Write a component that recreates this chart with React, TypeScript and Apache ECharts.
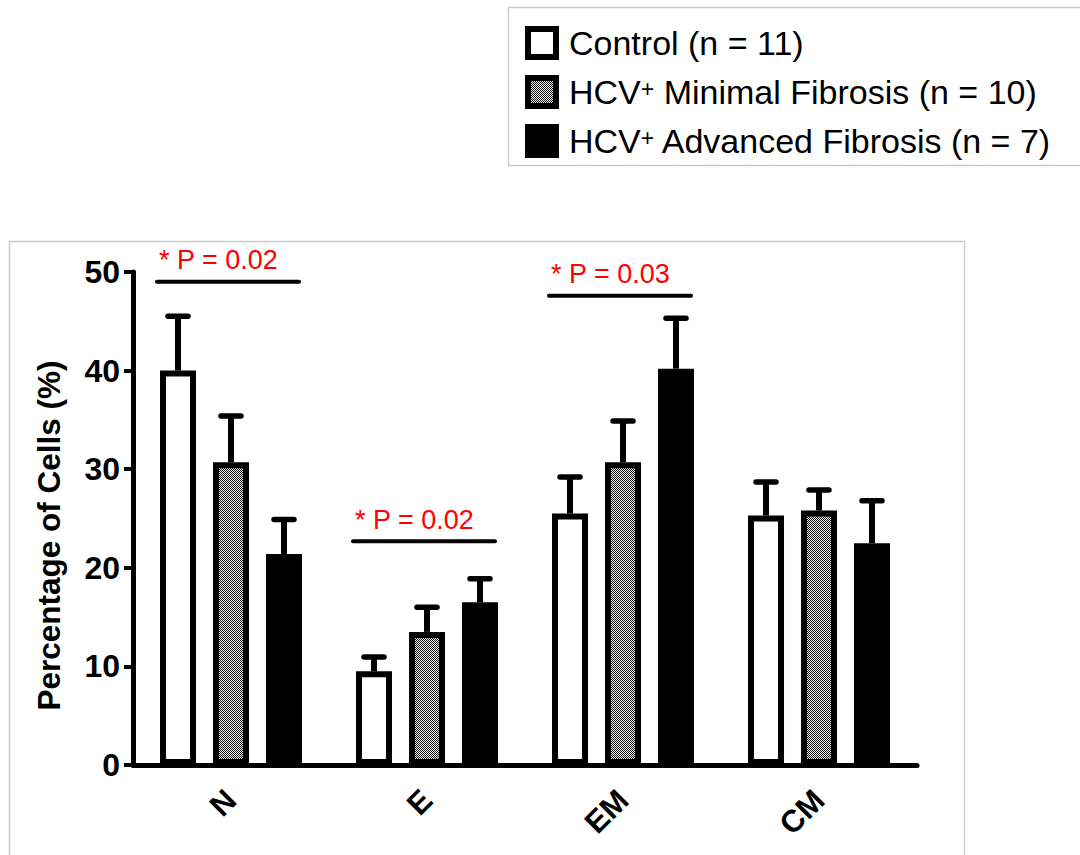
import React, { useEffect, useRef } from 'react';
import * as echarts from 'echarts';

const categories = ['N', 'E', 'EM', 'CM'];
const seriesNames = ['Control (n = 11)', 'HCV+ Minimal Fibrosis (n = 10)', 'HCV+ Advanced Fibrosis (n = 7)'];
const controlMeans = [40.0, 9.5, 25.5, 25.3];
const controlErr = [5.5, 1.45, 3.7, 3.4];
const minimalMeans = [30.7, 13.5, 30.7, 25.8];
const minimalErr = [4.7, 2.5, 4.2, 2.1];
const advancedMeans = [21.4, 16.5, 40.2, 22.5];
const advancedErr = [3.5, 2.4, 5.1, 4.3];
const sigCats = [0, 1, 2];
const sigLevels = [49.0, 22.7, 47.6];
const sigLabels = ['* P = 0.02', '* P = 0.02', '* P = 0.03'];
const yMin = 0;
const yMax = 50;
const yInterval = 10;

const FONT = '"Liberation Sans", Arial, sans-serif';
const BAR_W = 36;
const BAR_PITCH = 53;
const BORDER = 6;

function makePattern(): string {
  const c = document.createElement('canvas');
  c.width = 4;
  c.height = 4;
  const ctx = c.getContext('2d')!;
  for (let y = 0; y < 4; y++) {
    for (let x = 0; x < 4; x++) {
      ctx.fillStyle = (x + y) % 2 === 0 ? '#111111' : '#f4f4f4';
      ctx.fillRect(x, y, 1, 1);
    }
  }
  return c.toDataURL();
}

export default function App() {
  const ref = useRef<HTMLDivElement>(null);
  useEffect(() => {
    if (!ref.current) return;
    const chart = echarts.init(ref.current, undefined, { renderer: 'svg' });
    const pattern = { image: makePattern(), repeat: 'repeat' as const };

    const errorSeries = (means: number[], errs: number[], offset: number) => ({
      type: 'custom',
      z: 1,
      silent: true,
      data: means.map((m, i) => [i, m, errs[i]]),
      renderItem: (params: any, api: any) => {
        const cat = api.value(0);
        const mean = api.value(1);
        const err = api.value(2);
        const base = api.coord([cat, mean]);
        const top = api.coord([cat, mean + err]);
        const x = base[0] + offset;
        return {
          type: 'group',
          children: [
            { type: 'line', shape: { x1: x, y1: base[1], x2: x, y2: top[1] }, style: { stroke: '#000', lineWidth: 6 } },
            { type: 'line', shape: { x1: x - 10, y1: top[1], x2: x + 10, y2: top[1] }, style: { stroke: '#000', lineWidth: 5.5, lineCap: 'round' } },
          ],
        };
      },
    });

    const barBase = { type: 'bar', barWidth: BAR_W, barGap: ((BAR_PITCH - BAR_W) / BAR_W * 100).toFixed(1) + '%', z: 2 };

    chart.setOption({
      animation: false,
      backgroundColor: '#ffffff',
      textStyle: { fontFamily: FONT },
      graphic: [
        { type: 'rect', z: -1, shape: { x: 9.5, y: 241.5, width: 955, height: 640 }, style: { fill: 'none', stroke: '#cccccc', lineWidth: 1.5 } },
        { type: 'rect', z: -1, shape: { x: 508.5, y: 7.5, width: 620, height: 158 }, style: { fill: 'none', stroke: '#cccccc', lineWidth: 1.5 } },
      ],
      legend: {
        data: seriesNames,
        orient: 'vertical',
        left: 525,
        top: 26,
        padding: 0,
        icon: 'rect',
        itemWidth: 28,
        itemHeight: 28,
        itemGap: 15,
        itemStyle: { borderWidth: BORDER, borderColor: '#000' },
        formatter: (n: string) => n.replace('HCV+', 'HCV{sup|+}'),
        textStyle: {
          fontSize: 34,
          fontFamily: FONT,
          color: '#000',
          lineHeight: 30,
          padding: [0, 0, 0, 8],
          rich: {
            sup: { fontSize: 23, lineHeight: 14, verticalAlign: 'top', fontFamily: FONT, color: '#000' },
          },
        },
      },
      grid: { left: 133, right: 163, top: 272, bottom: 90, containLabel: false },
      xAxis: {
        type: 'category',
        data: categories,
        axisLine: { lineStyle: { color: '#000', width: 5 } },
        axisTick: { alignWithLabel: true, length: 9, lineStyle: { color: '#000', width: 4 } },
        axisLabel: { rotate: 45, margin: 30, fontSize: 31, fontWeight: 'bold', color: '#000', fontFamily: FONT },
      },
      yAxis: {
        type: 'value',
        min: yMin,
        max: yMax,
        interval: yInterval,
        name: 'Percentage of Cells (%)',
        nameLocation: 'middle',
        nameRotate: 90,
        nameGap: 68,
        nameTextStyle: { fontSize: 31.5, fontWeight: 'bold', color: '#000', fontFamily: FONT, padding: [0, 34, 0, 0] },
        axisLine: { show: true, lineStyle: { color: '#000', width: 5 } },
        axisTick: { show: true, length: 9, lineStyle: { color: '#000', width: 4 } },
        axisLabel: { margin: 13, fontSize: 32, fontWeight: 'bold', color: '#000', fontFamily: FONT },
        splitLine: { show: false },
      },
      series: [
        { ...barBase, name: seriesNames[0], data: controlMeans, itemStyle: { color: '#ffffff', borderColor: '#000', borderWidth: BORDER } },
        { ...barBase, name: seriesNames[1], data: minimalMeans, itemStyle: { color: pattern, borderColor: '#000', borderWidth: BORDER } },
        { ...barBase, name: seriesNames[2], data: advancedMeans, itemStyle: { color: '#000000', borderColor: '#000', borderWidth: BORDER } },
        errorSeries(controlMeans, controlErr, -BAR_PITCH),
        errorSeries(minimalMeans, minimalErr, 0),
        errorSeries(advancedMeans, advancedErr, BAR_PITCH),
        {
          type: 'custom',
          z: 3,
          silent: true,
          data: sigCats.map((c, i) => [c, sigLevels[i]]),
          renderItem: (params: any, api: any) => {
            const p = api.coord([api.value(0), api.value(1)]);
            const left = p[0] - (BAR_PITCH + BAR_W / 2 + 3);
            const right = p[0] + (BAR_PITCH + BAR_W / 2 - 3);
            return {
              type: 'group',
              children: [
                { type: 'line', shape: { x1: left, y1: p[1], x2: right, y2: p[1] }, style: { stroke: '#000', lineWidth: 4, lineCap: 'round' } },
                {
                  type: 'text',
                  x: left + 2,
                  y: p[1] - 8,
                  style: { text: sigLabels[params.dataIndex], fill: '#ff0000', fontSize: 27, fontFamily: FONT, align: 'left', verticalAlign: 'bottom' },
                },
              ],
            };
          },
        },
      ],
    });
    return () => chart.dispose();
  }, []);
  return <div ref={ref} style={{ position: 'absolute', left: 0, top: 0, width: 1080, height: 855, background: '#fff' }} />;
}
